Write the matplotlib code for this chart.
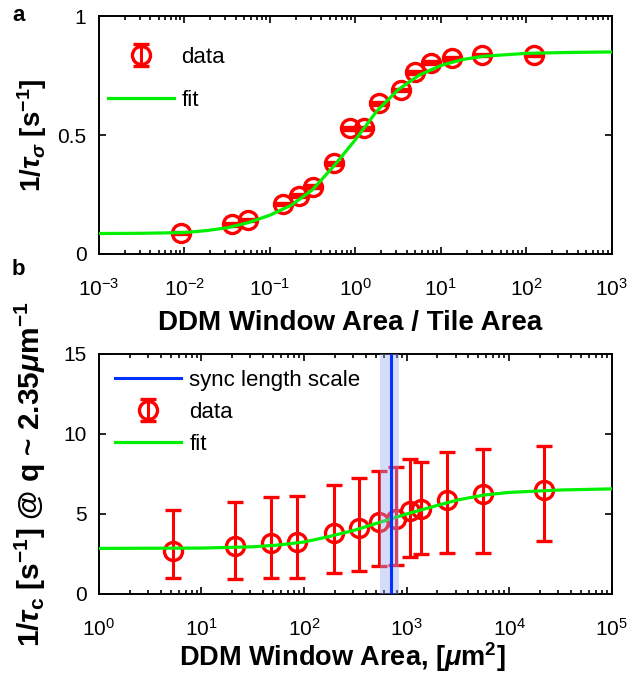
import numpy as np
import matplotlib
matplotlib.use('Agg')
import matplotlib.pyplot as plt

plt.rcParams['font.family'] = ['Liberation Sans', 'DejaVu Sans']
plt.rcParams['mathtext.fontset'] = 'custom'
plt.rcParams['mathtext.rm'] = 'Liberation Sans:bold'
plt.rcParams['mathtext.it'] = 'Liberation Sans:bold:italic'
plt.rcParams['mathtext.bf'] = 'Liberation Sans:bold'

# panel a: rate vs window/tile area ratio
ratio = [0.0091, 0.036, 0.056, 0.143, 0.222, 0.318, 0.556, 0.867, 1.25,
         1.91, 3.38, 4.95, 7.6, 13.5, 30.6, 122]
rate_a = [0.088, 0.125, 0.143, 0.21, 0.245, 0.283, 0.381, 0.528, 0.528,
          0.633, 0.689, 0.763, 0.804, 0.822, 0.836, 0.836]
err_a = [0.006] * len(ratio)

fit_a_x = [0.001, 0.00316, 0.01, 0.0178, 0.0316, 0.0562, 0.1, 0.178, 0.316,
           0.562, 1, 1.78, 3.16, 5.62, 10, 17.8, 31.6, 100, 316, 1000]
fit_a_y = [0.086, 0.087, 0.090, 0.098, 0.110, 0.132, 0.163, 0.205, 0.270,
           0.370, 0.480, 0.600, 0.690, 0.752, 0.792, 0.817, 0.831, 0.843,
           0.847, 0.849]

# panel b: rate vs window area
area = [5.3, 21.2, 47.2, 84.8, 194, 344, 541, 787, 1077, 1380, 2450, 5580, 21900]
rate_b = [2.68, 3.02, 3.17, 3.23, 3.79, 4.15, 4.52, 4.67, 5.21, 5.29, 5.87, 6.23, 6.5]
upper_b = [5.28, 5.77, 6.08, 6.15, 6.81, 7.27, 7.71, 7.96, 8.44, 8.27, 8.85, 9.06, 9.27]
lower_b = [1.0, 0.94, 1.02, 1.02, 1.29, 1.46, 1.75, 1.79, 2.29, 2.5, 2.54, 2.54, 3.33]

fit_b_x = [1, 10, 31.6, 56.2, 100, 178, 316, 562, 1000, 1780, 3160, 5620,
           10000, 31600, 100000]
fit_b_y = [2.85, 2.87, 2.95, 3.06, 3.25, 3.6, 4.0, 4.5, 5.0, 5.45, 5.88,
           6.18, 6.35, 6.5, 6.57]

sync_area = 697
sync_lo, sync_hi = 548, 845

red = '#ff0000'
green = '#00f000'
blue = '#0033ff'

fig = plt.figure(figsize=(6.3, 6.73), dpi=100)
ax1 = fig.add_axes([0.157, 0.6226, 0.814, 0.3536])
ax2 = fig.add_axes([0.157, 0.1174, 0.814, 0.3566])


def style_axes(ax):
    ax.set_xscale('log')
    ax.tick_params(which='both', direction='in', top=True, right=True,
                   labelsize=15, width=1.2)
    ax.tick_params(which='major', length=5)
    ax.tick_params(which='minor', length=3)
    ax.tick_params(axis='x', pad=17)
    ax.tick_params(axis='y', pad=9)
    for s in ax.spines.values():
        s.set_linewidth(1.4)


# ---- panel a
ax1.errorbar(ratio, rate_a, yerr=err_a, fmt='o', color=red, mfc='none',
             ms=13, mew=2.4, elinewidth=2.2, capsize=6, capthick=2.2,
             label='data', zorder=2)
ax1.plot(fit_a_x, fit_a_y, color=green, lw=2.3, label='fit', zorder=3)
style_axes(ax1)
ax1.set_xlim(1e-3, 1e3)
ax1.set_ylim(0, 1)
ax1.set_yticks([0, 0.5, 1])
ax1.set_yticklabels(['0', '0.5', '1'])
ax1.set_xticks([1e-3, 1e-2, 1e-1, 1e0, 1e1, 1e2, 1e3])
ax1.set_xlabel('DDM Window Area / Tile Area', fontsize=20,
               fontweight='bold')
ax1.xaxis.set_label_coords(0.489, -0.235)
ax1.set_ylabel(r'$1/\tau_\sigma$ [s$^{-1}$]', fontsize=20, fontweight='bold')
ax1.yaxis.set_label_coords(-0.098, 0.5)
h, l = ax1.get_legend_handles_labels()
order = [l.index('data'), l.index('fit')]
ax1.legend([h[i] for i in order], [l[i] for i in order], loc='upper left',
           bbox_to_anchor=(0.0, 0.908), frameon=False, fontsize=16,
           handlelength=3.0, labelspacing=1.0, handletextpad=0.3,
           borderaxespad=0)

# ---- panel b
ax2.errorbar(area, rate_b,
             yerr=[np.subtract(rate_b, lower_b), np.subtract(upper_b, rate_b)],
             fmt='o', color=red, mfc='none', ms=13, mew=2.4, elinewidth=2.2,
             capsize=6, capthick=2.2, label='data', zorder=2)
ax2.plot(fit_b_x, fit_b_y, color=green, lw=2.3, label='fit', zorder=3)
ax2.axvspan(sync_lo, sync_hi, color='#98a8f0', alpha=0.4, lw=0, zorder=4)
ax2.axvline(sync_area, color=blue, lw=2.2, label='sync length scale', zorder=5)
style_axes(ax2)
ax2.set_xlim(1, 1e5)
ax2.set_ylim(0, 15)
ax2.set_yticks([0, 5, 10, 15])
ax2.set_xticks([1, 1e1, 1e2, 1e3, 1e4, 1e5])
ax2.set_xlabel(r'DDM Window Area, [$\mu$m$^2$]', fontsize=19.5,
               fontweight='bold')
ax2.xaxis.set_label_coords(0.474, -0.193)
ax2.set_ylabel(r'$1/\tau_\mathrm{c}$ [s$^{-1}$] @ q ~ 2.35$\mu$m$^{-1}$',
               fontsize=21.5, fontweight='bold')
ax2.yaxis.set_label_coords(-0.1, 0.5)
h, l = ax2.get_legend_handles_labels()
order = [l.index('sync length scale'), l.index('data'), l.index('fit')]
ax2.legend([h[i] for i in order], [l[i] for i in order], loc='upper left',
           bbox_to_anchor=(0.0136, 0.972), frameon=False, fontsize=16,
           handlelength=3.0, labelspacing=0.5, handletextpad=0.35,
           borderaxespad=0)

fig.text(0.019, 0.977, 'a', fontsize=16, fontweight='bold', va='center')
fig.text(0.019, 0.600, 'b', fontsize=16, fontweight='bold', va='center')

fig.savefig('out.png', dpi=100)
